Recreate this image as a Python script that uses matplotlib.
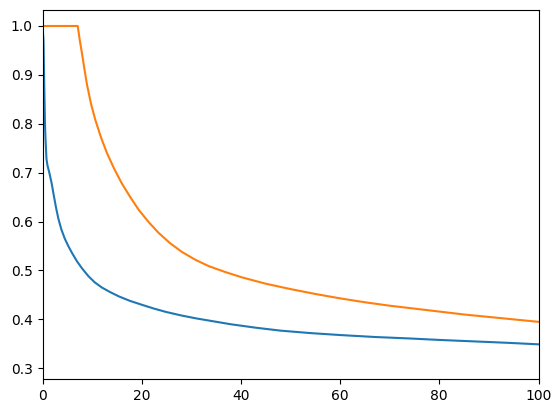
import matplotlib
matplotlib.use("Agg")
import matplotlib.pyplot as plt

# values
blue_x = [0, 0.2, 0.35, 0.5, 0.6, 0.8, 1.0, 1.4, 1.85, 2.25, 2.7, 3.2, 3.8,
          4.5, 5.2, 6.0, 7.0, 8.0, 9.2, 10.5, 12.0, 13.6, 15.4, 17.6, 20.0,
          22.5, 25.0, 28.0, 31.0, 34.5, 38.0, 43.0, 48.0, 54.0, 60.0, 67.0,
          74.0, 80.0, 87.0, 94.0, 100.0]
blue_y = [1.0, 0.97, 0.88, 0.80, 0.77, 0.728, 0.715, 0.699, 0.678, 0.655,
          0.630, 0.606, 0.584, 0.565, 0.550, 0.535, 0.518, 0.504, 0.489, 0.476,
          0.465, 0.456, 0.447, 0.438, 0.430, 0.422, 0.415, 0.408, 0.402, 0.396,
          0.390, 0.383, 0.377, 0.372, 0.368, 0.364, 0.361, 0.358, 0.355, 0.352,
          0.349]

orange_x = [0, 7.1, 7.5, 7.96, 8.45, 8.97, 9.8, 10.65, 11.8, 13.0, 14.5, 16.0,
            17.7, 19.4, 21.4, 23.4, 25.7, 28.1, 30.8, 33.5, 36.8, 40.2, 45, 50,
            55, 60, 65, 70, 75, 80, 85, 90, 95, 100]
orange_y = [1.0, 1.0, 0.972, 0.944, 0.912, 0.880, 0.840, 0.808, 0.772, 0.740,
            0.707, 0.678, 0.650, 0.624, 0.599, 0.577, 0.556, 0.538, 0.522,
            0.509, 0.497, 0.486, 0.473, 0.462, 0.452, 0.443, 0.435, 0.428,
            0.422, 0.416, 0.410, 0.405, 0.400, 0.395]

fig = plt.figure(figsize=(5.6, 4.13), dpi=100)
ax = fig.add_axes([42.5 / 560, 34 / 413, 496 / 560, 368.7 / 413])
ax.plot(blue_x, blue_y)
ax.plot(orange_x, orange_y)
ax.set_xlim(0, 100)
ax.set_ylim(0.2781, 1.0321)
fig.savefig("out.png", dpi=100)
